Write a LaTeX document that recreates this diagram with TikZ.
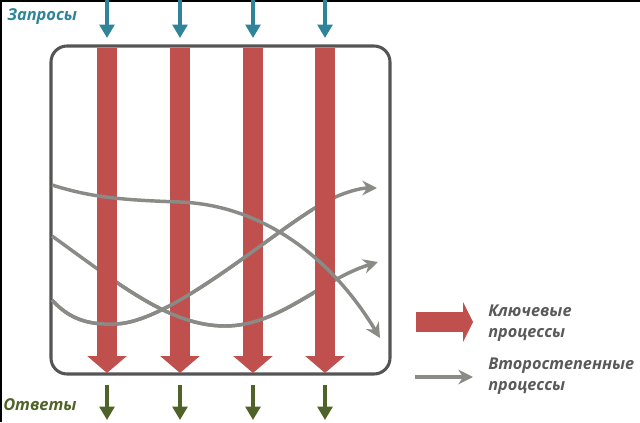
\documentclass[tikz,border=0pt]{standalone}
\usepackage{fontspec}
\setmainfont{Open Sans}
\usepackage{xcolor}
\usetikzlibrary{arrows.meta,positioning}
\definecolor{keyred}{HTML}{C0504D}
\definecolor{reqblue}{HTML}{2F8499}
\definecolor{ansgreen}{HTML}{4F6228}
\definecolor{sidegrey}{HTML}{8A8A86}
\definecolor{framegrey}{HTML}{555555}
\definecolor{legendgrey}{HTML}{595959}

\begin{document}
\begin{tikzpicture}[x=0.75pt, y=-0.75pt,
    keyflow/.style={keyred, line width=15pt, -{Triangle[width=29pt,length=12.75pt]}},
    request/.style={reqblue, line width=2.6pt, -{Triangle[width=11pt,length=10pt]}},
    answer/.style={ansgreen, line width=2.6pt, -{Triangle[width=11pt,length=10pt]}},
    sideflow/.style={sidegrey, line width=2.6pt, -{Stealth[width=11pt,length=11pt]}},
    sideline/.style={sidegrey, line width=2.6pt},
    caption/.style={font=\bfseries\itshape\fontsize{12.3}{14}\selectfont, inner sep=0pt, anchor=west},
    legendtext/.style={font=\bfseries\itshape\fontsize{12.2}{16}\selectfont, text=legendgrey, align=left, inner sep=0pt, anchor=west}]
    \useasboundingbox (0,0) rectangle (640,422);
    \draw[black, line width=3pt] (0,422) -- (0,0) -- (640,0);

    \node[caption, text=reqblue] (requests) at (7,17) {Запросы};
    \node[caption, text=ansgreen] (answers) at (3,405) {Ответы};

    \coordinate (in1) at (107,0);
    \coordinate (in2) at (180,0);
    \coordinate (in3) at (253,0);
    \coordinate (in4) at (325,0);
    \coordinate (top1) at (107,38);
    \coordinate (top2) at (180,38);
    \coordinate (top3) at (253,38);
    \coordinate (top4) at (325,38);

    \coordinate (bar1) at (107,47.5);
    \coordinate (bar2) at (180,47.5);
    \coordinate (bar3) at (253,47.5);
    \coordinate (bar4) at (325,47.5);
    \coordinate (tip1) at (107,373);
    \coordinate (tip2) at (180,373);
    \coordinate (tip3) at (253,373);
    \coordinate (tip4) at (325,373);

    \coordinate (out1) at (107,385);
    \coordinate (out2) at (180,385);
    \coordinate (out3) at (253,385);
    \coordinate (out4) at (325,385);
    \coordinate (end1) at (107,420);
    \coordinate (end2) at (180,420);
    \coordinate (end3) at (253,420);
    \coordinate (end4) at (325,420);

    \coordinate (a-start) at (52,185);
    \coordinate (a-mid) at (180,202);
    \coordinate (a-end) at (380,338);
    \coordinate (b-start) at (52,236);
    \coordinate (b-mid) at (225,326);
    \coordinate (b-end) at (378,262);
    \coordinate (c-start) at (52,300);
    \coordinate (c-low) at (115,324);
    \coordinate (c-mid) at (320,205);
    \coordinate (c-end) at (377,188);

    \draw[framegrey, line width=2.3pt, rounded corners=12pt] (51,46) rectangle (390,374);

    \draw
    (in1) edge[request] (top1)
    (in2) edge[request] (top2)
    (in3) edge[request] (top3)
    (in4) edge[request] (top4)
    (out1) edge[answer] (end1)
    (out2) edge[answer] (end2)
    (out3) edge[answer] (end3)
    (out4) edge[answer] (end4);

    \draw[sideflow] (b-start) .. controls (120,285) and (170,326) .. (b-mid)
        .. controls (280,326) and (320,280) .. (b-end);
    \draw[sideflow] (c-start) .. controls (70,320) and (90,325) .. (c-low)
        .. controls (170,323) and (270,234) .. (c-mid)
        .. controls (340,193) and (360,188) .. (c-end);

    \draw
    (bar1) edge[keyflow] (tip1)
    (bar2) edge[keyflow] (tip2)
    (bar3) edge[keyflow] (tip3)
    (bar4) edge[keyflow] (tip4);

    \begin{scope}
        \clip (118,0) rectangle (314,422);
        \draw[sideline] (b-start) .. controls (120,285) and (170,326) .. (b-mid)
            .. controls (280,326) and (320,280) .. (b-end);
    \end{scope}
    \begin{scope}
        \clip (0,0) rectangle (314,422);
        \draw[sideline] (c-start) .. controls (70,320) and (90,325) .. (c-low)
            .. controls (170,323) and (270,234) .. (c-mid)
            .. controls (340,193) and (360,188) .. (c-end);
    \end{scope}
    \draw[sideflow] (a-start) .. controls (90,197) and (120,200) .. (a-mid)
        .. controls (260,205) and (330,255) .. (a-end);

    \coordinate (keyfrom) at (416,322);
    \coordinate (keyto) at (473,322);
    \coordinate (sidefrom) at (415,377);
    \coordinate (sideto) at (473,377);
    \draw[keyred, line width=15pt, -{Triangle[width=30pt,length=7.5pt]}] (keyfrom) -- (keyto);
    \draw[sideflow] (sidefrom) -- (sideto);
    \node[legendtext] (keylabel) at (488,323) {Ключевые\\процессы};
    \node[legendtext] (sidelabel) at (488,376) {Второстепенные\\процессы};
\end{tikzpicture}
\end{document}
